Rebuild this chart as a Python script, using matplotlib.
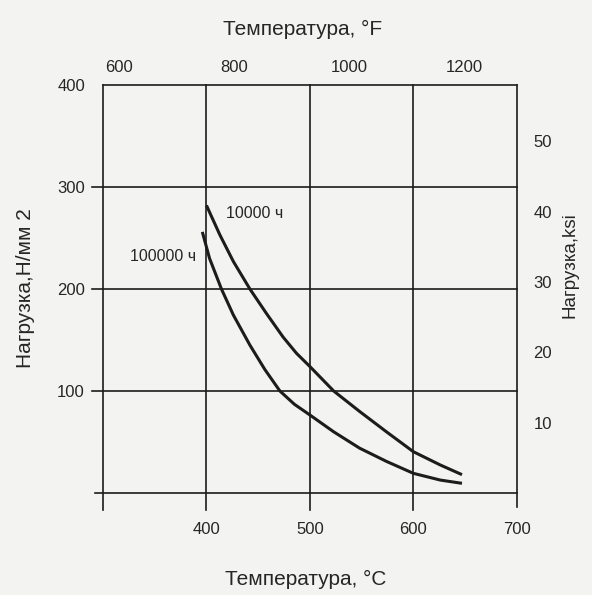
import numpy as np
import matplotlib
matplotlib.use("Agg")
import matplotlib.pyplot as plt

plt.rcParams["font.family"] = ["Liberation Sans", "DejaVu Sans"]

# creep strength curves (°C, N/mm2)
temp_10k = [400, 413, 426, 442, 458, 474, 487, 500, 523, 548, 574, 600, 626, 647]
load_10k = [282, 253, 227, 200, 176, 153, 137, 124, 100, 80, 60, 40.5, 27.5, 18]

temp_100k = [396, 403, 414.5, 426, 442, 456.5, 471, 485, 500, 523, 548, 574, 600, 626, 647]
load_100k = [256, 230, 200, 174.5, 145, 121, 100, 87, 76.5, 60, 44, 31, 19.3, 12.7, 9.5]

c_ticks = [400, 500, 600, 700]
f_ticks = [600, 800, 1000, 1200]
n_ticks = [100, 200, 300, 400]
ksi_ticks = [10, 20, 30, 40, 50]

ink = "#1c1c1c"
txt = "#262626"
bg = "#f3f3f1"


def c2f(c):
    return np.asarray(c) * 9 / 5 + 32


def f2c(f):
    return (np.asarray(f) - 32) * 5 / 9


def n2ksi(n):
    return np.asarray(n) / 6.895


def ksi2n(k):
    return np.asarray(k) * 6.895


fig = plt.figure(figsize=(5.92, 5.95), dpi=100, facecolor=bg)
ax = fig.add_axes([0.174, 0.1714, 0.699, 0.6857])
ax.set_facecolor(bg)
ax.set_xlim(300, 700)
ax.set_ylim(0, 400)

# frame and grid (lines run past the box as tick marks)
for s in ["left", "right", "bottom"]:
    ax.spines[s].set_visible(False)
ax.spines["top"].set_color(ink)
ax.spines["top"].set_linewidth(1.2)

for x in [300, 400, 500, 600]:
    ax.plot([x, x], [-17, 400], color=ink, lw=1.2, clip_on=False)
ax.plot([700, 700], [-14, 400], color=ink, lw=1.2, clip_on=False)
for y in [100, 200, 300]:
    ax.plot([289, 700], [y, y], color=ink, lw=1.2, clip_on=False)
ax.plot([292, 700], [0, 0], color=ink, lw=1.2, clip_on=False)

# curves
ax.plot(temp_10k, load_10k, color=ink, lw=2.2, solid_capstyle="butt",
        solid_joinstyle="round")
ax.plot(temp_100k, load_100k, color=ink, lw=2.2, solid_capstyle="butt",
        solid_joinstyle="round")
ax.text(419, 274, "10000 ч", fontsize=11.5, color=txt, va="center", ha="left")
ax.text(390, 232, "100000 ч", fontsize=11.5, color=txt, va="center", ha="right")

# bottom / left axes
ax.set_xticks(c_ticks)
ax.set_yticks(n_ticks)
ax.tick_params(axis="x", length=0, pad=21, labelsize=12, labelcolor=txt)
ax.tick_params(axis="y", length=0, pad=13, labelsize=12, labelcolor=txt)
ax.set_xlabel("Температура, °C", fontsize=15, color=txt)
ax.xaxis.set_label_coords(0.49, -0.211)
ax.xaxis.label.set_va("center")
ax.set_ylabel("Нагрузка,Н/мм 2", fontsize=15, color=txt)
ax.yaxis.set_label_coords(-0.188, 0.502)
ax.yaxis.label.set_va("center")

# top axis in °F
top = ax.secondary_xaxis("top", functions=(c2f, f2c))
top.set_xticks(f_ticks)
top.tick_params(length=0, pad=7, labelsize=12, labelcolor=txt)
top.spines["top"].set_visible(False)
fig.text(303 / 592, 1 - 29 / 595, "Температура, °F", fontsize=15, color=txt,
         ha="center", va="center")

# right axis in ksi
right = ax.secondary_yaxis("right", functions=(n2ksi, ksi2n))
right.set_yticks(ksi_ticks)
right.tick_params(length=0, pad=12, labelsize=12, labelcolor=txt)
right.spines["right"].set_visible(False)
fig.text(570 / 592, 1 - 265 / 595, "Нагрузка,ksi", fontsize=13.5, color=txt,
         ha="center", va="center", rotation=90)

fig.savefig("out.png", dpi=100, facecolor=bg)
